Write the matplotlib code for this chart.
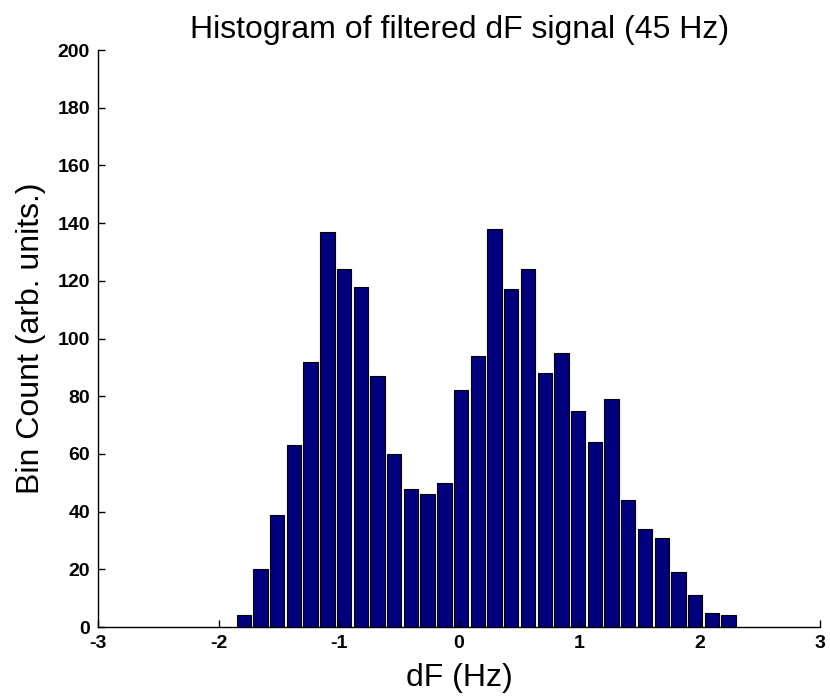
import numpy as np
import matplotlib.pyplot as plt

plt.rcParams['font.family'] = ['Liberation Sans', 'DejaVu Sans']
plt.rcParams['axes.unicode_minus'] = False

# histogram of filtered dF signal, 30 bins
bin_lo = -1.86
bin_hi = 2.31
n_bins = 30
counts = [4, 20, 39, 63, 92, 137, 124, 118, 87, 60,
          48, 46, 50, 82, 94, 138, 117, 124, 88, 95,
          75, 64, 79, 44, 34, 31, 19, 11, 5, 4]

x_ticks = [-3, -2, -1, 0, 1, 2, 3]
y_ticks = [0, 20, 40, 60, 80, 100, 120, 140, 160, 180, 200]

edges = np.linspace(bin_lo, bin_hi, n_bins + 1)
centers = (edges[:-1] + edges[1:]) / 2

fig = plt.figure(figsize=(8.3, 6.98), dpi=100)
ax = fig.add_axes([0.1184, 0.1017, 0.8695, 0.8266])

ax.hist(centers, bins=edges, weights=counts, rwidth=0.86,
        color='#00007f', edgecolor='black', linewidth=0.8)

ax.set_xlim(-3, 3)
ax.set_ylim(0, 200)
ax.set_xticks(x_ticks)
ax.set_yticks(y_ticks)
ax.spines['top'].set_visible(False)
ax.spines['right'].set_visible(False)
for s in ('left', 'bottom'):
    ax.spines[s].set_linewidth(1.0)
ax.tick_params(direction='in', length=5, width=1.0, labelsize=14, pad=6)
for lbl in ax.get_xticklabels() + ax.get_yticklabels():
    lbl.set_fontweight('bold')

ax.set_title("Histogram of filtered dF signal (45 Hz)", fontsize=23, pad=9)
ax.set_xlabel("dF (Hz)", fontsize=23, labelpad=8)
ax.set_ylabel("Bin Count (arb. units.)", fontsize=23, labelpad=8)

fig.savefig("out.png", dpi=100)
